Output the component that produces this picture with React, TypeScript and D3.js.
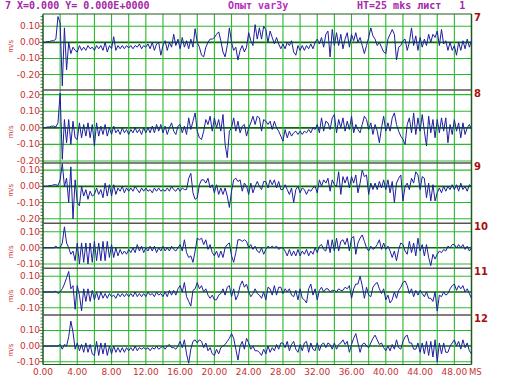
import React from 'react';
import * as d3 from 'd3';

// ---------- DATA ----------
const sampleStepMs = 0.25; // one value every 0.25 ms, 0..50 ms
const channelLabels = ['7', '8', '9', '10', '11', '12'];
const xTickValues = [0, 4, 8, 12, 16, 20, 24, 28, 32, 36, 40, 44, 48];
const headerLeft = '7 X=0.000 Y= 0.000E+0000';
const headerMid = 'Опыт var3y';
const headerRight = 'HT=25 mks лист   1';
const unitLabel = 'm/s';
const xUnitLabel = 'MS';

// velocity values, m/s (8 values per 2 ms)
const trace7 = [
  0, 0, 0.005, 0.005, 0.01, 0.01, 0.02, 0.16,
  0.12, -0.27, 0.09, -0.17, 0.0, -0.07, -0.03, -0.05,
  -0.06, -0.02, -0.05, -0.03, -0.05, -0.02, -0.04, -0.03,
  -0.05, -0.02, -0.04, -0.02, -0.05, 0.0, -0.06, -0.02,
  -0.04, 0.035, -0.05, -0.02, -0.04, -0.02, -0.04, -0.02,
  -0.035, -0.02, -0.04, -0.02, -0.03, -0.01, -0.04, -0.02,
  -0.03, -0.01, -0.04, 0.0, -0.05, -0.01, 0.0, -0.08,
  -0.02, 0.01, -0.05, 0.0, -0.03, 0.05, -0.02, 0.02,
  -0.04, 0.03, -0.03, 0.01, -0.04, 0.02, -0.03, 0.085,
  0.0, -0.03, -0.08, -0.09, -0.03, 0.0, 0.02, 0.02,
  0.03, 0.05, 0.065, 0.01, -0.06, -0.09, -0.02, 0.09,
  0.0, -0.05, -0.03, -0.11, -0.05, -0.02, -0.06, -0.03,
  0.06, 0.01, -0.02, 0.11, 0.02, 0.09, 0.02, 0.1,
  0.08, 0.0, 0.07, 0.03, -0.01, 0.03, -0.01, -0.04,
  -0.01, -0.04, 0.0, -0.02, 0.01, -0.06, -0.08, -0.02,
  -0.05, -0.02, -0.05, -0.02, -0.04, -0.01, -0.04, 0.0,
  0.02, -0.01, 0.03, -0.03, 0.05, 0.07, -0.09, 0.08,
  -0.02, 0.06, -0.02, 0.05, -0.04, 0.02, 0.06, -0.03,
  0.05, 0.01, 0.06, 0.0, 0.03, -0.02, -0.07, -0.02,
  0.03, 0.09, 0.04, 0.02, -0.02, 0.0, -0.03, -0.06,
  -0.07, 0.02, 0.05, 0.08, 0.05, -0.11, -0.03, -0.02,
  0.01, 0.02, -0.05, 0.0, 0.09, -0.02, 0.04, -0.05,
  0.03, -0.03, 0.02, -0.02, 0.05, 0.0, 0.05, 0.03,
  0.07, -0.02, 0.08, -0.01, 0.01, -0.05, 0.0, -0.05,
  -0.02, -0.08, 0.0, -0.05, 0.01, -0.04, 0.02, -0.03,
  0.01,
];

const trace8 = [
  0, 0, 0.005, 0.005, 0.01, 0.01, 0.005, 0.03,
  0.21, -0.19, 0.05, -0.09, 0.05, -0.1, 0.04, -0.06,
  -0.07, 0.03, -0.06, 0.02, -0.05, 0.03, -0.06, 0.02,
  -0.11, 0.03, -0.05, 0.01, -0.04, 0.02, -0.05, 0.0,
  -0.04, 0.01, -0.03, -0.01, -0.04, 0.0, -0.03, -0.01,
  -0.04, -0.01, -0.03, 0.0, -0.03, -0.01, -0.04, 0.0,
  -0.03, 0.0, -0.03, 0.01, -0.03, 0.02, -0.02, 0.02,
  -0.03, 0.01, -0.04, 0.0, 0.03, -0.02, -0.04, 0.01,
  0.02, -0.03, 0.01, -0.04, 0.06, -0.01, 0.04, 0.09,
  -0.02, -0.06, -0.07, -0.02, 0.05, 0.02, 0.07, -0.02,
  0.06, 0.0, 0.05, -0.02, 0.08, -0.1, -0.18, -0.02,
  0.0, 0.06, -0.02, 0.04, -0.03, 0.01, 0.02, -0.05,
  0.0, 0.03, 0.07, 0.02, 0.07, 0.06, -0.02, 0.05,
  0.04, 0.02, 0.04, -0.01, 0.04, 0.0, -0.02, -0.05,
  -0.08, -0.01, -0.06, -0.02, -0.05, -0.03, -0.02, -0.04,
  -0.02, -0.04, -0.02, -0.03, -0.01, -0.03, 0.0, -0.01,
  0.02, -0.03, 0.06, -0.02, 0.04, 0.03, -0.01, 0.06,
  0.08, -0.03, 0.05, 0.0, 0.06, -0.02, 0.04, -0.01,
  0.07, -0.03, 0.02, -0.01, -0.03, 0.02, 0.07, 0.05,
  -0.01, 0.03, -0.04, 0.02, -0.02, -0.09, 0.0, 0.07,
  -0.02, 0.03, -0.02, 0.06, 0.09, 0.02, -0.02, -0.05,
  -0.07, -0.1, 0.02, 0.06, -0.03, 0.09, -0.04, 0.06,
  -0.02, 0.08, -0.02, -0.11, 0.07, -0.03, 0.05, -0.06,
  0.05, -0.03, 0.06, -0.02, 0.06, -0.09, 0.02, -0.04,
  0.05, -0.02, 0.03, -0.06, 0.03, -0.04, 0.0, 0.02,
  -0.01,
];

const trace9 = [
  0, 0, 0, 0.005, 0.005, 0.01, 0.01, 0.005,
  0.04, 0.14, 0.0, 0.05, -0.1, 0.12, -0.2, 0.04,
  -0.1, -0.12, 0.0, -0.06, -0.02, -0.08, -0.03, -0.06,
  -0.05, -0.01, -0.05, -0.02, -0.07, 0.02, -0.06, 0.01,
  -0.06, 0.01, -0.05, -0.01, -0.03, 0.0, -0.04, -0.01,
  -0.03, -0.01, -0.03, 0.0, -0.02, -0.04, -0.01, -0.03,
  -0.01, -0.03, -0.02, -0.04, -0.01, -0.03, -0.01, -0.03,
  -0.02, -0.03, -0.01, -0.03, 0.0, -0.02, -0.03, -0.01,
  -0.03, -0.01, -0.02, -0.02, 0.05, 0.08, -0.04, -0.08,
  -0.07, 0.01, 0.04, 0.04, 0.02, 0.05, -0.01, 0.01,
  -0.04, 0.01, -0.05, -0.01, -0.05, -0.01, -0.06, -0.13,
  -0.03, 0.04, 0.05, 0.03, 0.04, -0.03, 0.02, 0.0,
  -0.05, 0.02, -0.04, 0.0, 0.03, 0.0, -0.02, 0.03,
  0.03, -0.01, 0.04, 0.01, 0.04, -0.01, 0.03, -0.02,
  -0.02, 0.01, -0.02, -0.05, -0.01, -0.1, -0.02, 0.0,
  -0.04, -0.01, -0.02, -0.05, -0.02, -0.03, -0.01, 0.0,
  -0.04, 0.04, 0.0, 0.04, 0.02, 0.05, -0.03, 0.04,
  0.01, 0.0, 0.09, -0.05, 0.06, 0.02, 0.06, -0.01,
  0.06, 0.02, 0.07, -0.04, 0.02, 0.1, 0.06, 0.07,
  -0.05, 0.02, -0.02, 0.02, -0.02, 0.03, -0.01, 0.04,
  -0.02, 0.04, -0.04, 0.03, -0.1, 0.02, 0.05, 0.07,
  -0.09, 0.0, 0.02, -0.02, 0.05, 0.02, 0.09, 0.07,
  -0.02, 0.06, 0.05, -0.07, 0.02, -0.09, 0.01, -0.09,
  -0.04, -0.01, -0.04, 0.0, -0.03, 0.0, -0.02, 0.01,
  -0.02, 0.01, -0.03, 0.02, -0.02, 0.0, -0.03, 0.01,
  0.0,
];

const trace10 = [
  0, 0, 0, 0, 0, 0, 0.01, 0.0,
  0.0, 0.03, 0.13, 0.03, 0.0, -0.04, -0.02, -0.08,
  0.03, -0.1, 0.03, -0.09, 0.03, -0.1, 0.03, -0.09,
  0.04, -0.08, 0.03, -0.08, 0.04, -0.08, 0.04, -0.06,
  0.02, -0.06, 0.0, -0.05, -0.01, -0.04, -0.02, -0.04,
  -0.01, -0.03, 0.0, -0.03, 0.02, -0.02, 0.01, -0.03,
  0.0, -0.02, 0.01, -0.02, 0.01, -0.03, 0.0, -0.02,
  0.01, -0.02, 0.0, -0.02, 0.01, -0.01, -0.02, 0.0,
  0.02, -0.02, 0.05, -0.03, -0.06, -0.05, -0.09, -0.02,
  0.06, 0.05, 0.06, 0.02, 0.05, -0.01, 0.02, -0.03,
  -0.05, -0.02, -0.06, -0.02, -0.06, 0.0, 0.02, 0.03,
  -0.05, -0.09, -0.03, 0.05, 0.05, 0.04, 0.05, 0.04,
  0.0, 0.02, -0.01, 0.01, -0.02, -0.03, 0.0, -0.04,
  -0.01, 0.01, 0.0, 0.01, 0.0, 0.01, -0.01, 0.0,
  0.0, -0.02, -0.05, -0.01, -0.05, -0.02, -0.05, -0.01,
  -0.05, -0.02, -0.04, -0.01, -0.05, -0.02, -0.04, 0.0,
  -0.03, 0.01, 0.02, -0.01, -0.02, 0.05, -0.03, 0.05,
  -0.02, 0.06, -0.02, 0.04, 0.05, 0.02, 0.06, -0.02,
  0.06, 0.07, -0.04, 0.03, 0.06, 0.08, 0.04, 0.0,
  -0.02, 0.01, -0.01, 0.0, 0.02, 0.05, -0.01, 0.03,
  -0.01, 0.01, -0.02, -0.06, -0.02, -0.08, -0.01, 0.03,
  0.02, -0.02, -0.04, 0.04, -0.03, 0.03, -0.05, 0.06,
  -0.02, 0.02, -0.05, 0.02, -0.06, -0.11, -0.04, -0.07,
  -0.04, -0.02, -0.03, -0.01, -0.02, 0.01, 0.0, 0.02,
  0.02, 0.0, 0.02, 0.0, 0.02, -0.01, 0.01, -0.02,
  0.0,
];

const trace11 = [
  0, 0, 0, 0, 0, 0, 0.005, -0.01,
  0.0, 0.02, 0.05, 0.09, 0.13, 0.02, 0.04, -0.11,
  0.04, -0.02, -0.12, 0.02, -0.06, 0.02, -0.06, 0.01,
  -0.05, 0.0, -0.05, 0.0, -0.04, -0.01, -0.04, -0.01,
  -0.03, -0.02, -0.04, -0.01, -0.03, -0.01, -0.03, -0.01,
  -0.03, -0.01, -0.03, 0.0, -0.03, -0.01, -0.03, -0.01,
  -0.03, 0.0, -0.02, -0.01, -0.03, 0.0, -0.02, -0.01,
  -0.03, 0.0, -0.03, 0.01, -0.02, 0.01, -0.02, 0.02,
  0.04, 0.0, 0.06, -0.03, -0.06, -0.09, 0.01, 0.02,
  0.06, 0.02, 0.04, 0.0, 0.02, -0.02, -0.04, -0.02,
  -0.05, -0.05, -0.02, -0.01, 0.02, -0.02, 0.03, 0.04,
  -0.03, 0.02, -0.05, -0.02, 0.04, 0.07, 0.03, 0.05,
  0.0, -0.03, -0.01, 0.02, -0.01, -0.02, -0.04, 0.0,
  -0.05, 0.03, 0.02, -0.02, 0.04, -0.02, 0.03, 0.03,
  -0.01, 0.02, 0.0, 0.02, -0.02, -0.03, 0.01, -0.05,
  0.02, -0.04, -0.05, -0.07, 0.02, 0.05, -0.02, 0.02,
  -0.05, 0.01, 0.03, 0.0, 0.02, 0.02, 0.0, 0.01,
  0.01, 0.0, 0.02, 0.01, 0.01, 0.03, 0.02, 0.04,
  -0.04, 0.02, 0.05, 0.05, 0.1, 0.04, -0.04, 0.03,
  -0.02, -0.03, 0.03, 0.05, 0.06, 0.02, -0.01, 0.02,
  -0.05, -0.02, -0.07, -0.05, 0.0, -0.04, 0.01, 0.03,
  0.06, 0.07, 0.04, -0.01, 0.02, -0.03, 0.01, -0.02,
  0.01, -0.01, -0.03, 0.0, -0.04, -0.04, -0.06, 0.0,
  -0.12, -0.02, -0.03, 0.0, -0.02, -0.01, 0.02, 0.04,
  0.05, 0.01, 0.04, 0.02, 0.04, 0.0, 0.02, -0.01,
  -0.04,
];

const trace12 = [
  0, 0, 0, 0, 0, 0, 0, 0.0,
  0.01, -0.02, 0.01, 0.0, 0.06, 0.16, 0.09, -0.02,
  0.02, -0.03, 0.01, -0.04, 0.02, -0.04, 0.01, -0.05,
  -0.06, 0.03, -0.06, 0.02, -0.05, 0.02, -0.06, 0.0,
  -0.05, 0.0, -0.04, -0.01, -0.04, -0.01, -0.04, -0.01,
  -0.03, -0.01, -0.03, 0.0, -0.03, -0.01, -0.02, -0.01,
  -0.02, -0.01, -0.03, -0.01, -0.02, 0.0, -0.02, -0.01,
  0.0, -0.02, 0.0, 0.01, -0.01, -0.01, -0.02, 0.0,
  0.03, -0.01, 0.04, -0.05, -0.11, -0.02, 0.03, 0.04,
  0.02, 0.04, 0.03, -0.01, 0.02, -0.03, -0.01, -0.05,
  -0.06, -0.02, -0.05, -0.01, 0.0, 0.01, 0.03, 0.05,
  0.08, 0.05, -0.02, -0.09, 0.0, 0.03, -0.02, 0.05,
  0.02, -0.02, 0.0, -0.03, -0.03, -0.04, -0.06, -0.02,
  -0.05, 0.0, -0.04, -0.01, -0.03, 0.01, -0.02, 0.02,
  0.02, -0.01, 0.03, -0.03, 0.01, 0.03, -0.02, -0.04,
  0.01, -0.03, 0.02, 0.03, -0.04, 0.02, -0.02, -0.03,
  0.02, -0.03, 0.01, 0.02, -0.01, 0.02, 0.01, -0.02,
  0.02, -0.02, 0.01, 0.02, 0.04, 0.01, 0.03, -0.04,
  0.01, 0.05, 0.08, 0.02, -0.04, 0.01, 0.02, 0.0,
  -0.01, 0.02, 0.05, 0.07, 0.04, 0.01, 0.02, -0.01,
  -0.03, 0.0, -0.03, 0.01, -0.02, 0.04, -0.01, -0.02,
  0.03, 0.06, 0.07, 0.02, 0.02, -0.02, -0.02, 0.02,
  -0.04, 0.02, -0.05, 0.03, -0.06, 0.03, -0.07, 0.04,
  -0.1, 0.02, -0.05, 0.02, -0.04, -0.04, 0.0, 0.02,
  0.04, 0.0, 0.03, -0.02, 0.04, -0.01, 0.02, -0.03,
  -0.05,
];

const traces = [trace7, trace8, trace9, trace10, trace11, trace12];

// ---------- LAYOUT ----------
const W = 513;
const H = 385;
const plotLeft = 43;
const plotRight = 471.5;
const panels = [
  { top: 14, bottom: 90, yMin: -0.296, yMax: 0.176 },
  { top: 90, bottom: 163, yMin: -0.212, yMax: 0.228 },
  { top: 163, bottom: 223.3, yMin: -0.228, yMax: 0.144 },
  { top: 223.3, bottom: 268.3, yMin: -0.127, yMax: 0.152 },
  { top: 268.3, bottom: 315, yMin: -0.146, yMax: 0.15 },
  { top: 315, bottom: 364.5, yMin: -0.118, yMax: 0.199 },
];

const RED = '#c83232';
const GRID = '#2ab82a';
const ZERO = '#0a6a0a';
const FRAME = '#1d5a1d';
const SEP = '#555555';
const TRACE = '#1e1ea0';
const HEAD = '#a428a8';

export default function App() {
  const x = d3.scaleLinear().domain([0, 50]).range([plotLeft, plotRight]);
  const vGrid = d3.range(0, 51, 2);
  const fmt = (v: number) => (Math.abs(v) < 1e-9 ? '0.00' : v.toFixed(2));
  const scales = panels.map((p) => d3.scaleLinear().domain([p.yMin, p.yMax]).range([p.bottom, p.top]));

  return (
    <div style={{ position: 'absolute', left: 0, top: 0 }}>
      <svg width={W} height={H} style={{ display: 'block', background: '#fff' }}>
        <rect x={0} y={0} width={W} height={H} fill="#ffffff" />
        {/* header */}
        <g fontFamily="'DejaVu Sans Mono', monospace" fontSize={10} fontWeight="bold" fill={HEAD}>
          <text x={5} y={5.5} dominantBaseline="central" style={{ whiteSpace: 'pre' }}>
            {headerLeft}
          </text>
          <text x={228} y={5.5} dominantBaseline="central" fill="#b82cc0" style={{ whiteSpace: 'pre' }}>
            {headerMid}
          </text>
          <text x={357} y={5.5} dominantBaseline="central" style={{ whiteSpace: 'pre' }}>
            {headerRight}
          </text>
        </g>

        {/* panel backgrounds: grid, ticks, labels */}
        {panels.map((p, pi) => {
          const y = scales[pi];
          const majors = d3
            .range(Math.ceil(p.yMin * 10 - 1e-6), Math.floor(p.yMax * 10 + 1e-6) + 1)
            .map((i) => i / 10);
          const minors = d3
            .range(Math.ceil(p.yMin * 50 - 1e-6), Math.floor(p.yMax * 50 + 1e-6) + 1)
            .map((i) => i / 50);
          const zeroY = y(0);
          return (
            <g key={pi}>
              {majors
                .filter((v) => Math.abs(v) > 1e-9)
                .filter((v) => y(v) > p.top + 1.5 && y(v) < p.bottom - 1.5)
                .map((v) => (
                  <line key={v} x1={plotLeft} x2={plotRight} y1={y(v)} y2={y(v)} stroke={GRID} strokeWidth={1.1} />
                ))}
              {minors.map((v) => {
                const isMajor = Math.abs(Math.round(v * 10) - v * 10) < 1e-6;
                return (
                  <line
                    key={'m' + v}
                    x1={isMajor ? plotLeft - 4 : plotLeft - 2.5}
                    x2={plotLeft}
                    y1={y(v)}
                    y2={y(v)}
                    stroke={FRAME}
                    strokeWidth={0.8}
                  />
                );
              })}
              {majors.map((v) => (
                <text
                  key={'t' + v}
                  x={40}
                  y={y(v)}
                  textAnchor="end"
                  dominantBaseline="central"
                  fontFamily="'DejaVu Sans', sans-serif"
                  fontSize={9}
                  fill={RED}
                >
                  {fmt(v)}
                </text>
              ))}
              <text
                transform={`translate(11,${zeroY + 4}) rotate(-90)`}
                textAnchor="middle"
                dominantBaseline="central"
                fontFamily="'DejaVu Sans', sans-serif"
                fontSize={7}
                fill={RED}
              >
                {unitLabel}
              </text>
              <text
                x={474}
                y={p.top + 3}
                dominantBaseline="central"
                fontFamily="'DejaVu Sans', sans-serif"
                fontSize={10}
                fontWeight="bold"
                fill="#a81010"
              >
                {channelLabels[pi]}
              </text>
              <line x1={plotLeft} x2={plotRight} y1={zeroY} y2={zeroY} stroke={ZERO} strokeWidth={1.6} />
            </g>
          );
        })}

        {/* vertical grid */}
        {vGrid.map((t) => (
          <line
            key={'v' + t}
            x1={x(t)}
            x2={x(t)}
            y1={panels[0].top}
            y2={panels[panels.length - 1].bottom}
            stroke={t === 0 || t === 50 ? FRAME : GRID}
            strokeWidth={t === 0 || t === 50 ? 1.5 : 1.1}
          />
        ))}

        {/* panel separators and frame */}
        {panels.slice(1).map((p, i) => (
          <line key={'s' + i} x1={plotLeft} x2={plotRight} y1={p.top} y2={p.top} stroke={SEP} strokeWidth={1.6} />
        ))}
        <line x1={plotLeft} x2={plotRight} y1={panels[0].top} y2={panels[0].top} stroke={FRAME} strokeWidth={1.2} />
        <line
          x1={plotLeft}
          x2={plotRight}
          y1={panels[panels.length - 1].bottom}
          y2={panels[panels.length - 1].bottom}
          stroke={FRAME}
          strokeWidth={1.2}
        />

        {/* traces */}
        {panels.map((p, pi) => {
          const y = scales[pi];
          const line = d3
            .line<number>()
            .x((_, i) => x(i * sampleStepMs))
            .y((d) => y(d));
          return (
            <path
              key={'tr' + pi}
              d={line(traces[pi]) || ''}
              fill="none"
              stroke={TRACE}
              strokeWidth={1}
              strokeLinejoin="round"
            />
          );
        })}

        {/* x labels */}
        {xTickValues.map((t) => (
          <text
            key={'x' + t}
            x={x(t)}
            y={372}
            textAnchor="middle"
            dominantBaseline="central"
            fontFamily="'DejaVu Sans', sans-serif"
            fontSize={9}
            fill={RED}
          >
            {t.toFixed(2)}
          </text>
        ))}
        <text
          x={469}
          y={372}
          dominantBaseline="central"
          fontFamily="'DejaVu Sans', sans-serif"
          fontSize={8.5}
          fill={RED}
        >
          {xUnitLabel}
        </text>
      </svg>
    </div>
  );
}
